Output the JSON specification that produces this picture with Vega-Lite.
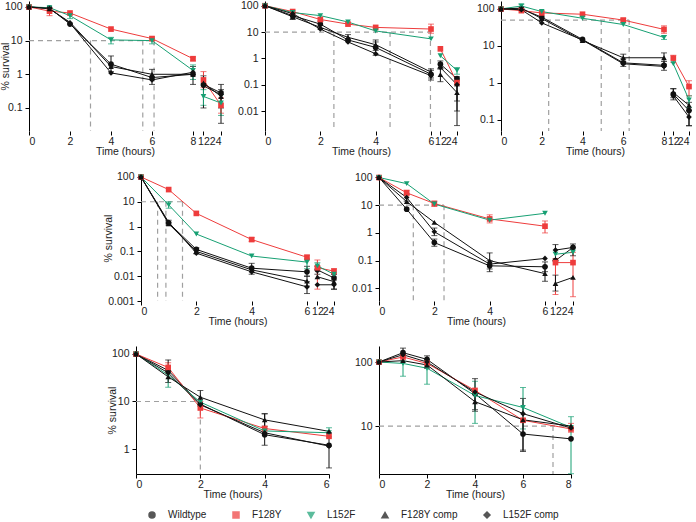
{
"$schema":"https://vega.github.io/schema/vega-lite/v6.json",
"padding":{"left":0,"top":0,"right":0,"bottom":0},
"config":{
 "font":"Liberation Sans",
 "view":{"stroke":null},
 "range":{"category":["#111111","#ee3c3c","#17a073","#111111","#111111"],"symbol":["circle","square","triangle-down","triangle-up","diamond"]},
 "axis":{"grid":false,"domainColor":"#000","tickColor":"#000","labelColor":"#222","titleColor":"#222","labelFontSize":10.5,"titleFontSize":10.5,"titleFontWeight":"normal","tickSize":4,"labelOverlap":false},
 "axisX":{"labelPadding":1,"titlePadding":0},
 "axisY":{"labelPadding":3,"titlePadding":-6},
 "legend":{"orient":"none","legendX":118,"legendY":509,"direction":"horizontal","columns":5,"labelFontSize":10,"symbolSize":36,"labelOffset":11,"columnPadding":23,"labelColor":"#222"}
},
"datasets":{
"A":[
{"t":0,"s":"Wildtype","v":100},{"t":0,"s":"F128Y","v":100},{"t":0,"s":"L152F","v":100},{"t":0,"s":"F128Y comp","v":100},{"t":0,"s":"L152F comp","v":100},
{"t":1,"s":"Wildtype","v":92},{"t":1,"s":"F128Y","v":75},{"t":1,"s":"L152F","v":95},{"t":1,"s":"F128Y comp","v":88},{"t":1,"s":"L152F comp","v":90},
{"t":2,"s":"Wildtype","v":31},{"t":2,"s":"F128Y","v":66},{"t":2,"s":"L152F","v":55},{"t":2,"s":"F128Y comp","v":35},{"t":2,"s":"L152F comp","v":33},
{"t":4,"s":"Wildtype","v":2.0},{"t":4,"s":"F128Y","v":22},{"t":4,"s":"L152F","v":10.5},{"t":4,"s":"F128Y comp","v":1.7},{"t":4,"s":"L152F comp","v":1.1},
{"t":6,"s":"Wildtype","v":0.8},{"t":6,"s":"F128Y","v":11.5},{"t":6,"s":"L152F","v":10},{"t":6,"s":"F128Y comp","v":1.0},{"t":6,"s":"L152F comp","v":0.68},
{"t":8,"s":"Wildtype","v":1.0},{"t":8,"s":"F128Y","v":2.9},{"t":8,"s":"L152F","v":1.3},{"t":8,"s":"F128Y comp","v":1.0},{"t":8,"s":"L152F comp","v":1.15},
{"t":12,"s":"Wildtype","v":0.5},{"t":12,"s":"F128Y","v":0.68},{"t":12,"s":"L152F","v":0.22},{"t":12,"s":"F128Y comp","v":0.55},{"t":12,"s":"L152F comp","v":0.45},
{"t":24,"s":"Wildtype","v":0.28},{"t":24,"s":"F128Y","v":0.12},{"t":24,"s":"L152F","v":0.14},{"t":24,"s":"F128Y comp","v":0.22},{"t":24,"s":"L152F comp","v":0.25}],
"eA":[
{"t":1,"s":"F128Y","v":55,"v2":95},{"t":2,"s":"L152F","v":45,"v2":65},{"t":4,"s":"Wildtype","v":1.2,"v2":3.5},{"t":4,"s":"L152F","v":8,"v2":12.5},{"t":6,"s":"Wildtype","v":0.5,"v2":1.4},{"t":6,"s":"F128Y","v":10,"v2":13},{"t":6,"s":"L152F","v":8,"v2":12},{"t":8,"s":"Wildtype","v":0.5,"v2":1.7},{"t":8,"s":"L152F","v":0.7,"v2":1.9},{"t":8,"s":"F128Y","v":2.5,"v2":3.3},{"t":12,"s":"F128Y","v":0.4,"v2":1.2},{"t":12,"s":"Wildtype","v":0.1,"v2":0.9},{"t":12,"s":"L152F","v":0.12,"v2":0.35},{"t":24,"s":"Wildtype","v":0.035,"v2":0.5},{"t":24,"s":"L152F","v":0.06,"v2":0.25},{"t":24,"s":"F128Y","v":0.07,"v2":0.2},{"t":24,"s":"F128Y comp","v":0.1,"v2":0.35}],
"gA":[{"t":0,"t2":6.1,"v":10,"v2":10},{"t":3,"t2":3,"v":10,"v2":0.0207},{"t":5.55,"t2":5.55,"v":10,"v2":0.0207},{"t":6.1,"t2":6.1,"v":10,"v2":0.0207}],
"B":[
{"t":0,"s":"Wildtype","v":100},{"t":0,"s":"F128Y","v":100},{"t":0,"s":"L152F","v":100},{"t":0,"s":"F128Y comp","v":100},{"t":0,"s":"L152F comp","v":100},
{"t":1,"s":"Wildtype","v":42},{"t":1,"s":"F128Y","v":60},{"t":1,"s":"L152F","v":55},{"t":1,"s":"F128Y comp","v":38},{"t":1,"s":"L152F comp","v":50},
{"t":2,"s":"Wildtype","v":20},{"t":2,"s":"F128Y","v":30},{"t":2,"s":"L152F","v":42},{"t":2,"s":"F128Y comp","v":15},{"t":2,"s":"L152F comp","v":13},
{"t":3,"s":"Wildtype","v":5},{"t":3,"s":"F128Y","v":20},{"t":3,"s":"L152F","v":24},{"t":3,"s":"F128Y comp","v":6.3},{"t":3,"s":"L152F comp","v":4.2},
{"t":4,"s":"Wildtype","v":2.6},{"t":4,"s":"F128Y","v":15},{"t":4,"s":"L152F","v":11},{"t":4,"s":"F128Y comp","v":3.3},{"t":4,"s":"L152F comp","v":1.5},
{"t":6,"s":"Wildtype","v":0.25},{"t":6,"s":"F128Y","v":13},{"t":6,"s":"L152F","v":5.5},{"t":6,"s":"F128Y comp","v":0.3},{"t":6,"s":"L152F comp","v":0.22},
{"t":12,"s":"Wildtype","v":0.6},{"t":12,"s":"F128Y","v":2.3},{"t":12,"s":"L152F","v":1.25},{"t":12,"s":"F128Y comp","v":0.24},{"t":12,"s":"L152F comp","v":0.45},
{"t":24,"s":"Wildtype","v":0.17},{"t":24,"s":"F128Y","v":0.12},{"t":24,"s":"L152F","v":0.35},{"t":24,"s":"F128Y comp","v":0.05},{"t":24,"s":"L152F comp","v":0.1}],
"eB":[
{"t":1,"s":"Wildtype","v":30,"v2":55},{"t":2,"s":"Wildtype","v":14,"v2":26},{"t":3,"s":"F128Y comp","v":4.5,"v2":8},{"t":4,"s":"Wildtype","v":1.3,"v2":4.2},{"t":4,"s":"F128Y comp","v":2,"v2":5},{"t":6,"s":"F128Y","v":9,"v2":20},{"t":6,"s":"Wildtype","v":0.18,"v2":0.4},{"t":6,"s":"L152F comp","v":0.15,"v2":0.35},{"t":12,"s":"F128Y comp","v":0.13,"v2":0.4},{"t":12,"s":"Wildtype","v":0.4,"v2":0.8},{"t":24,"s":"F128Y comp","v":0.0028,"v2":0.09},{"t":24,"s":"Wildtype","v":0.024,"v2":0.2},{"t":24,"s":"L152F comp","v":0.01,"v2":0.15},{"t":24,"s":"L152F","v":0.25,"v2":0.45}],
"gB":[{"t":0,"t2":6,"v":10,"v2":10},{"t":2.49,"t2":2.49,"v":10,"v2":0.00174},{"t":4.52,"t2":4.52,"v":10,"v2":0.00174},{"t":5.98,"t2":5.98,"v":10,"v2":0.00174}],
"C":[
{"t":0,"s":"Wildtype","v":100},{"t":0,"s":"F128Y","v":100},{"t":0,"s":"L152F","v":100},{"t":0,"s":"F128Y comp","v":100},{"t":0,"s":"L152F comp","v":100},
{"t":1,"s":"Wildtype","v":100},{"t":1,"s":"F128Y","v":90},{"t":1,"s":"L152F","v":120},{"t":1,"s":"F128Y comp","v":105},{"t":1,"s":"L152F comp","v":95},
{"t":2,"s":"Wildtype","v":60},{"t":2,"s":"F128Y","v":78},{"t":2,"s":"L152F","v":85},{"t":2,"s":"F128Y comp","v":55},{"t":2,"s":"L152F comp","v":42},
{"t":4,"s":"Wildtype","v":15},{"t":4,"s":"F128Y","v":72},{"t":4,"s":"L152F","v":56},{"t":4,"s":"F128Y comp","v":14},{"t":4,"s":"L152F comp","v":14.5},
{"t":6,"s":"Wildtype","v":3.5},{"t":6,"s":"F128Y","v":50},{"t":6,"s":"L152F","v":38},{"t":6,"s":"F128Y comp","v":4.8},{"t":6,"s":"L152F comp","v":3.3},
{"t":8,"s":"Wildtype","v":3.0},{"t":8,"s":"F128Y","v":28},{"t":8,"s":"L152F","v":17},{"t":8,"s":"F128Y comp","v":4.8},{"t":8,"s":"L152F comp","v":2.8},
{"t":12,"s":"Wildtype","v":0.5},{"t":12,"s":"F128Y","v":4.7},{"t":12,"s":"L152F","v":3.3},{"t":12,"s":"F128Y comp","v":0.55},{"t":12,"s":"L152F comp","v":0.45},
{"t":24,"s":"Wildtype","v":0.18},{"t":24,"s":"F128Y","v":0.8},{"t":24,"s":"L152F","v":0.35},{"t":24,"s":"F128Y comp","v":0.25},{"t":24,"s":"L152F comp","v":0.12}],
"eC":[
{"t":1,"s":"L152F","v":105,"v2":135},{"t":6,"s":"Wildtype","v":2.8,"v2":4.5},{"t":6,"s":"F128Y comp","v":3.8,"v2":6.0},{"t":6,"s":"F128Y","v":42,"v2":56},{"t":8,"s":"F128Y comp","v":3.2,"v2":6.5},{"t":8,"s":"Wildtype","v":2.2,"v2":3.8},{"t":8,"s":"F128Y","v":22,"v2":35},{"t":8,"s":"L152F","v":15,"v2":19},{"t":12,"s":"Wildtype","v":0.35,"v2":0.7},{"t":12,"s":"F128Y comp","v":0.4,"v2":0.7},{"t":12,"s":"F128Y","v":3.6,"v2":5.6},{"t":24,"s":"F128Y","v":0.45,"v2":1.15},{"t":24,"s":"Wildtype","v":0.07,"v2":0.3},{"t":24,"s":"L152F comp","v":0.07,"v2":0.18},{"t":24,"s":"L152F","v":0.22,"v2":0.45}],
"gC":[{"t":0,"t2":6.29,"v":50,"v2":50},{"t":2.34,"t2":2.34,"v":50,"v2":0.0504},{"t":4.92,"t2":4.92,"v":50,"v2":0.0504},{"t":6.29,"t2":6.29,"v":50,"v2":0.0504}],
"D":[
{"t":0,"s":"Wildtype","v":100},{"t":0,"s":"F128Y","v":100},{"t":0,"s":"L152F","v":100},{"t":0,"s":"F128Y comp","v":100},{"t":0,"s":"L152F comp","v":100},
{"t":1,"s":"Wildtype","v":1.4},{"t":1,"s":"F128Y","v":31},{"t":1,"s":"L152F","v":7.5},{"t":1,"s":"F128Y comp","v":1.3},{"t":1,"s":"L152F comp","v":1.5},
{"t":2,"s":"Wildtype","v":0.12},{"t":2,"s":"F128Y","v":3.4},{"t":2,"s":"L152F","v":0.5},{"t":2,"s":"F128Y comp","v":0.1},{"t":2,"s":"L152F comp","v":0.085},
{"t":4,"s":"Wildtype","v":0.021},{"t":4,"s":"F128Y","v":0.3},{"t":4,"s":"L152F","v":0.065},{"t":4,"s":"F128Y comp","v":0.018},{"t":4,"s":"L152F comp","v":0.015},
{"t":6,"s":"Wildtype","v":0.015},{"t":6,"s":"F128Y","v":0.058},{"t":6,"s":"L152F","v":0.037},{"t":6,"s":"F128Y comp","v":0.0063},{"t":6,"s":"L152F comp","v":0.0037},
{"t":12,"s":"Wildtype","v":0.018},{"t":12,"s":"F128Y","v":0.022},{"t":12,"s":"L152F","v":0.026},{"t":12,"s":"F128Y comp","v":0.0095},{"t":12,"s":"L152F comp","v":0.0045},
{"t":24,"s":"Wildtype","v":0.0085},{"t":24,"s":"F128Y","v":0.016},{"t":24,"s":"L152F","v":0.012},{"t":24,"s":"F128Y comp","v":0.006},{"t":24,"s":"L152F comp","v":0.0045}],
"eD":[
{"t":1,"s":"L152F","v":5.5,"v2":10},{"t":1,"s":"Wildtype","v":1.1,"v2":1.8},{"t":2,"s":"Wildtype","v":0.08,"v2":0.14},{"t":4,"s":"Wildtype","v":0.012,"v2":0.033},{"t":4,"s":"F128Y","v":0.25,"v2":0.36},{"t":6,"s":"Wildtype","v":0.01,"v2":0.025},{"t":6,"s":"L152F comp","v":0.002,"v2":0.006},{"t":6,"s":"F128Y comp","v":0.004,"v2":0.01},{"t":6,"s":"L152F","v":0.02,"v2":0.05},{"t":6,"s":"F128Y","v":0.045,"v2":0.07},{"t":12,"s":"F128Y","v":0.003,"v2":0.045},{"t":12,"s":"L152F","v":0.018,"v2":0.035},{"t":12,"s":"Wildtype","v":0.012,"v2":0.025},{"t":24,"s":"Wildtype","v":0.003,"v2":0.012},{"t":24,"s":"F128Y","v":0.012,"v2":0.02},{"t":24,"s":"L152F comp","v":0.003,"v2":0.007}],
"gD":[{"t":0,"t2":1.5,"v":10,"v2":10},{"t":0.6,"t2":0.6,"v":10,"v2":0.001},{"t":0.9,"t2":0.9,"v":10,"v2":0.001},{"t":1.5,"t2":1.5,"v":10,"v2":0.001}],
"E":[
{"t":0,"s":"Wildtype","v":100},{"t":0,"s":"F128Y","v":100},{"t":0,"s":"L152F","v":100},{"t":0,"s":"F128Y comp","v":100},{"t":0,"s":"L152F comp","v":100},
{"t":1,"s":"Wildtype","v":7.2},{"t":1,"s":"F128Y","v":28},{"t":1,"s":"L152F","v":60},{"t":1,"s":"F128Y comp","v":13.5},{"t":1,"s":"L152F comp","v":19},
{"t":2,"s":"Wildtype","v":0.45},{"t":2,"s":"F128Y","v":11.5},{"t":2,"s":"L152F","v":11},{"t":2,"s":"F128Y comp","v":2.4},{"t":2,"s":"L152F comp","v":1.1},
{"t":4,"s":"Wildtype","v":0.065},{"t":4,"s":"F128Y","v":3.2},{"t":4,"s":"L152F","v":2.9},{"t":4,"s":"F128Y comp","v":0.1},{"t":4,"s":"L152F comp","v":0.075},
{"t":6,"s":"Wildtype","v":0.06},{"t":6,"s":"F128Y","v":1.75},{"t":6,"s":"L152F","v":5.1},{"t":6,"s":"F128Y comp","v":0.034},{"t":6,"s":"L152F comp","v":0.12},
{"t":12,"s":"Wildtype","v":0.1},{"t":12,"s":"F128Y","v":0.085},{"t":12,"s":"L152F","v":0.17},{"t":12,"s":"F128Y comp","v":0.015},{"t":12,"s":"L152F comp","v":0.24},
{"t":24,"s":"Wildtype","v":0.3},{"t":24,"s":"F128Y","v":0.085},{"t":24,"s":"L152F","v":0.2},{"t":24,"s":"F128Y comp","v":0.025},{"t":24,"s":"L152F comp","v":0.3}],
"eE":[
{"t":1,"s":"L152F comp","v":14,"v2":25},{"t":1,"s":"F128Y","v":22,"v2":35},{"t":2,"s":"Wildtype","v":0.33,"v2":0.6},{"t":2,"s":"L152F comp","v":0.8,"v2":1.5},{"t":2,"s":"F128Y","v":9,"v2":14},{"t":4,"s":"F128Y","v":2.3,"v2":4.5},{"t":4,"s":"Wildtype","v":0.04,"v2":0.19},{"t":4,"s":"L152F comp","v":0.05,"v2":0.1},{"t":6,"s":"F128Y","v":1.0,"v2":2.7},{"t":6,"s":"F128Y comp","v":0.018,"v2":0.06},{"t":6,"s":"Wildtype","v":0.04,"v2":0.09},{"t":12,"s":"Wildtype","v":0.1,"v2":0.38},{"t":12,"s":"F128Y","v":0.006,"v2":0.12},{"t":12,"s":"F128Y comp","v":0.008,"v2":0.03},{"t":24,"s":"F128Y","v":0.005,"v2":0.2},{"t":24,"s":"L152F comp","v":0.15,"v2":0.4}],
"gE":[{"t":0,"t2":2.35,"v":10,"v2":10},{"t":1.24,"t2":1.24,"v":10,"v2":0.0035},{"t":2.35,"t2":2.35,"v":10,"v2":0.0035}],
"F":[
{"t":0,"s":"Wildtype","v":100},{"t":0,"s":"F128Y","v":100},{"t":0,"s":"L152F","v":100},{"t":0,"s":"F128Y comp","v":100},{"t":0,"s":"L152F comp","v":100},
{"t":1,"s":"Wildtype","v":45},{"t":1,"s":"F128Y","v":52},{"t":1,"s":"L152F","v":36},{"t":1,"s":"F128Y comp","v":33},{"t":1,"s":"L152F comp","v":40},
{"t":2,"s":"Wildtype","v":8.8},{"t":2,"s":"F128Y","v":7.3},{"t":2,"s":"L152F","v":9.7},{"t":2,"s":"F128Y comp","v":12.3},{"t":2,"s":"L152F comp","v":8.5},
{"t":4,"s":"Wildtype","v":2.0},{"t":4,"s":"F128Y","v":2.7},{"t":4,"s":"L152F","v":2.4},{"t":4,"s":"F128Y comp","v":4.1},{"t":4,"s":"L152F comp","v":2.2},
{"t":6,"s":"Wildtype","v":1.2},{"t":6,"s":"F128Y","v":1.85},{"t":6,"s":"L152F","v":2.2},{"t":6,"s":"F128Y comp","v":2.35},{"t":6,"s":"L152F comp","v":1.15}],
"eF":[
{"t":1,"s":"L152F","v":20,"v2":45},{"t":1,"s":"Wildtype","v":25,"v2":75},{"t":1,"s":"F128Y","v":40,"v2":65},{"t":2,"s":"F128Y comp","v":8,"v2":17},{"t":2,"s":"F128Y","v":4.5,"v2":10},{"t":4,"s":"Wildtype","v":1.2,"v2":5.5},{"t":4,"s":"F128Y comp","v":3,"v2":5.5},{"t":6,"s":"Wildtype","v":0.4,"v2":2.2},{"t":6,"s":"L152F","v":1.8,"v2":2.8}],
"gF":[{"t":0,"t2":2,"v":10,"v2":10},{"t":2,"t2":2,"v":10,"v2":0.298}],
"G":[
{"t":0,"s":"Wildtype","v":100},{"t":0,"s":"F128Y","v":100},{"t":0,"s":"L152F","v":100},{"t":0,"s":"F128Y comp","v":100},{"t":0,"s":"L152F comp","v":100},
{"t":1,"s":"Wildtype","v":140},{"t":1,"s":"F128Y","v":120},{"t":1,"s":"L152F","v":95},{"t":1,"s":"F128Y comp","v":105},{"t":1,"s":"L152F comp","v":130},
{"t":2,"s":"Wildtype","v":110},{"t":2,"s":"F128Y","v":95},{"t":2,"s":"L152F","v":80},{"t":2,"s":"F128Y comp","v":90},{"t":2,"s":"L152F comp","v":100},
{"t":4,"s":"Wildtype","v":32},{"t":4,"s":"F128Y","v":36},{"t":4,"s":"L152F","v":30},{"t":4,"s":"F128Y comp","v":24},{"t":4,"s":"L152F comp","v":34},
{"t":6,"s":"Wildtype","v":7.5},{"t":6,"s":"F128Y","v":12.3},{"t":6,"s":"L152F","v":19.5},{"t":6,"s":"F128Y comp","v":12.5},{"t":6,"s":"L152F comp","v":15.6},
{"t":8,"s":"Wildtype","v":6.3},{"t":8,"s":"F128Y","v":9},{"t":8,"s":"L152F","v":9.5},{"t":8,"s":"F128Y comp","v":10},{"t":8,"s":"L152F comp","v":9.3}],
"eG":[
{"t":1,"s":"L152F","v":60,"v2":130},{"t":1,"s":"Wildtype","v":120,"v2":165},{"t":2,"s":"L152F","v":45,"v2":110},{"t":2,"s":"Wildtype","v":80,"v2":125},{"t":4,"s":"L152F","v":11,"v2":50},{"t":4,"s":"L152F comp","v":18,"v2":55},{"t":4,"s":"F128Y comp","v":17,"v2":32},{"t":6,"s":"L152F","v":9,"v2":40},{"t":6,"s":"L152F comp","v":4,"v2":27},{"t":6,"s":"Wildtype","v":4.2,"v2":13},{"t":8,"s":"L152F","v":1.8,"v2":14},{"t":8,"s":"F128Y","v":8,"v2":11}],
"gG":[{"t":0,"t2":8,"v":10,"v2":10},{"t":7.25,"t2":7.25,"v":10,"v2":1.78}]
},
"spacing":14,
"vconcat":[
{"hconcat":[
 {"width":192,"height":130,
  "encoding":{"x":{"field":"t","type":"quantitative","scale":{"domain":[0,8,11,24],"range":[0,164,173,192],"nice":false},"axis":{"values":[0,2,4,6,8,12,24],"title":"Time (hours)","domain":false}},
    "y":{"field":"v","type":"quantitative","scale":{"type":"log","domain":[0.0207,150],"nice":false},"axis":{"values":[0.1,1,10,100],"format":"~g","title":"% survival"}}},
  "layer":[
   {"data":{"name":"gA"},"mark":{"type":"rule","color":"#a0a0a0","strokeDash":[5,4],"strokeWidth":1.2},"encoding":{"x2":{"field":"t2"},"y2":{"field":"v2"}}},
   {"data":{"values":[{}]},"mark":{"type":"rule","color":"#000","strokeWidth":1},"encoding":{"x":{"datum":0},"x2":{"datum":8},"y":{"datum":0.0207}}},
   {"data":{"values":[{}]},"mark":{"type":"rule","color":"#000","strokeWidth":1},"encoding":{"x":{"datum":11},"x2":{"datum":24},"y":{"datum":0.0207}}},
   {"data":{"name":"A"},"transform":[{"filter":"datum.t <= 8"}],"mark":{"type":"line","strokeWidth":1},"encoding":{"color":{"field":"s","type":"nominal","scale":{"domain":["Wildtype","F128Y","L152F","F128Y comp","L152F comp"]},"title":null}}},
   {"data":{"name":"A"},"transform":[{"filter":"datum.t >= 12"}],"mark":{"type":"line","strokeWidth":1},"encoding":{"color":{"field":"s","type":"nominal","scale":{"domain":["Wildtype","F128Y","L152F","F128Y comp","L152F comp"]},"title":null}}},
   {"data":{"name":"eA"},"mark":{"type":"errorbar","ticks":true,"size":6,"thickness":1},"encoding":{"y2":{"field":"v2"},"color":{"field":"s","type":"nominal","scale":{"domain":["Wildtype","F128Y","L152F","F128Y comp","L152F comp"]},"title":null}}},
   {"data":{"name":"A"},"mark":{"type":"point","filled":true,"size":32,"opacity":1},"encoding":{"color":{"field":"s","type":"nominal","scale":{"domain":["Wildtype","F128Y","L152F","F128Y comp","L152F comp"]},"title":null},"shape":{"field":"s","type":"nominal","scale":{"domain":["Wildtype","F128Y","L152F","F128Y comp","L152F comp"]},"title":null}}},
   {"data":{"values":[{}]},"mark":{"type":"text","text":"A","fontSize":15,"align":"left","baseline":"alphabetic","dx":11,"dy":-8,"color":"#111"},"encoding":{"x":{"datum":0},"y":{"datum":0.0207}}}
  ]},
 {"width":192,"height":130,
  "encoding":{"x":{"field":"t","type":"quantitative","scale":{"domain":[0,6,11,24],"range":[0,166,174,192],"nice":false},"axis":{"values":[0,2,4,6,12,24],"title":"Time (hours)","domain":false}},
    "y":{"field":"v","type":"quantitative","scale":{"type":"log","domain":[0.00174,151],"nice":false},"axis":{"values":[0.01,0.1,1,10,100],"format":"~g","title":null}}},
  "layer":[
   {"data":{"name":"gB"},"mark":{"type":"rule","color":"#a0a0a0","strokeDash":[5,4],"strokeWidth":1.2},"encoding":{"x2":{"field":"t2"},"y2":{"field":"v2"}}},
   {"data":{"values":[{}]},"mark":{"type":"rule","color":"#000","strokeWidth":1},"encoding":{"x":{"datum":0},"x2":{"datum":6},"y":{"datum":0.00174}}},
   {"data":{"values":[{}]},"mark":{"type":"rule","color":"#000","strokeWidth":1},"encoding":{"x":{"datum":11},"x2":{"datum":24},"y":{"datum":0.00174}}},
   {"data":{"name":"B"},"transform":[{"filter":"datum.t <= 8"}],"mark":{"type":"line","strokeWidth":1},"encoding":{"color":{"field":"s","type":"nominal","scale":{"domain":["Wildtype","F128Y","L152F","F128Y comp","L152F comp"]},"title":null}}},
   {"data":{"name":"B"},"transform":[{"filter":"datum.t >= 12"}],"mark":{"type":"line","strokeWidth":1},"encoding":{"color":{"field":"s","type":"nominal","scale":{"domain":["Wildtype","F128Y","L152F","F128Y comp","L152F comp"]},"title":null}}},
   {"data":{"name":"eB"},"mark":{"type":"errorbar","ticks":true,"size":6,"thickness":1},"encoding":{"y2":{"field":"v2"},"color":{"field":"s","type":"nominal","scale":{"domain":["Wildtype","F128Y","L152F","F128Y comp","L152F comp"]},"title":null}}},
   {"data":{"name":"B"},"mark":{"type":"point","filled":true,"size":32,"opacity":1},"encoding":{"color":{"field":"s","type":"nominal","scale":{"domain":["Wildtype","F128Y","L152F","F128Y comp","L152F comp"]},"title":null},"shape":{"field":"s","type":"nominal","scale":{"domain":["Wildtype","F128Y","L152F","F128Y comp","L152F comp"]},"title":null}}},
   {"data":{"values":[{}]},"mark":{"type":"text","text":"B","fontSize":15,"align":"left","baseline":"alphabetic","dx":17,"dy":-9,"color":"#111"},"encoding":{"x":{"datum":0},"y":{"datum":0.00174}}}
  ]},
 {"width":190,"height":130,
  "encoding":{"x":{"field":"t","type":"quantitative","scale":{"domain":[0,8,11,24],"range":[0,163,171,188],"nice":false},"axis":{"values":[0,2,4,6,8,12,24],"title":"Time (hours)","domain":false}},
    "y":{"field":"v","type":"quantitative","scale":{"type":"log","domain":[0.0504,164],"nice":false},"axis":{"values":[0.1,1,10,100],"format":"~g","title":null}}},
  "layer":[
   {"data":{"name":"gC"},"mark":{"type":"rule","color":"#a0a0a0","strokeDash":[5,4],"strokeWidth":1.2},"encoding":{"x2":{"field":"t2"},"y2":{"field":"v2"}}},
   {"data":{"values":[{}]},"mark":{"type":"rule","color":"#000","strokeWidth":1},"encoding":{"x":{"datum":0},"x2":{"datum":8},"y":{"datum":0.0504}}},
   {"data":{"values":[{}]},"mark":{"type":"rule","color":"#000","strokeWidth":1},"encoding":{"x":{"datum":11},"x2":{"datum":24},"y":{"datum":0.0504}}},
   {"data":{"name":"C"},"transform":[{"filter":"datum.t <= 8"}],"mark":{"type":"line","strokeWidth":1},"encoding":{"color":{"field":"s","type":"nominal","scale":{"domain":["Wildtype","F128Y","L152F","F128Y comp","L152F comp"]},"title":null}}},
   {"data":{"name":"C"},"transform":[{"filter":"datum.t >= 12"}],"mark":{"type":"line","strokeWidth":1},"encoding":{"color":{"field":"s","type":"nominal","scale":{"domain":["Wildtype","F128Y","L152F","F128Y comp","L152F comp"]},"title":null}}},
   {"data":{"name":"eC"},"mark":{"type":"errorbar","ticks":true,"size":6,"thickness":1},"encoding":{"y2":{"field":"v2"},"color":{"field":"s","type":"nominal","scale":{"domain":["Wildtype","F128Y","L152F","F128Y comp","L152F comp"]},"title":null}}},
   {"data":{"name":"C"},"mark":{"type":"point","filled":true,"size":32,"opacity":1},"encoding":{"color":{"field":"s","type":"nominal","scale":{"domain":["Wildtype","F128Y","L152F","F128Y comp","L152F comp"]},"title":null},"shape":{"field":"s","type":"nominal","scale":{"domain":["Wildtype","F128Y","L152F","F128Y comp","L152F comp"]},"title":null}}},
   {"data":{"values":[{}]},"mark":{"type":"text","text":"C","fontSize":15,"align":"left","baseline":"alphabetic","dx":10,"dy":-9,"color":"#111"},"encoding":{"x":{"datum":0},"y":{"datum":0.0504}}}
  ]}
],"spacing":44,"bounds":"flush"},
{"hconcat":[
 {"width":67,"height":157,"data":{"values":[{}]},"mark":{"type":"point","opacity":0},"encoding":{}},
 {"width":193,"height":126,
  "encoding":{"x":{"field":"t","type":"quantitative","scale":{"domain":[0,6,11,24],"range":[0,166,175,193],"nice":false},"axis":{"values":[0,2,4,6,12,24],"title":"Time (hours)","domain":false}},
    "y":{"field":"v","type":"quantitative","scale":{"type":"log","domain":[0.001,120],"nice":false},"axis":{"values":[0.001,0.01,0.1,1,10,100],"format":"~g","title":"% survival"}}},
  "layer":[
   {"data":{"name":"gD"},"mark":{"type":"rule","color":"#a0a0a0","strokeDash":[5,4],"strokeWidth":1.2},"encoding":{"x2":{"field":"t2"},"y2":{"field":"v2"}}},
   {"data":{"values":[{}]},"mark":{"type":"rule","color":"#000","strokeWidth":1},"encoding":{"x":{"datum":0},"x2":{"datum":6},"y":{"datum":0.001}}},
   {"data":{"values":[{}]},"mark":{"type":"rule","color":"#000","strokeWidth":1},"encoding":{"x":{"datum":11},"x2":{"datum":24},"y":{"datum":0.001}}},
   {"data":{"name":"D"},"transform":[{"filter":"datum.t <= 8"}],"mark":{"type":"line","strokeWidth":1},"encoding":{"color":{"field":"s","type":"nominal","scale":{"domain":["Wildtype","F128Y","L152F","F128Y comp","L152F comp"]},"title":null}}},
   {"data":{"name":"D"},"transform":[{"filter":"datum.t >= 12"}],"mark":{"type":"line","strokeWidth":1},"encoding":{"color":{"field":"s","type":"nominal","scale":{"domain":["Wildtype","F128Y","L152F","F128Y comp","L152F comp"]},"title":null}}},
   {"data":{"name":"eD"},"mark":{"type":"errorbar","ticks":true,"size":6,"thickness":1},"encoding":{"y2":{"field":"v2"},"color":{"field":"s","type":"nominal","scale":{"domain":["Wildtype","F128Y","L152F","F128Y comp","L152F comp"]},"title":null}}},
   {"data":{"name":"D"},"mark":{"type":"point","filled":true,"size":32,"opacity":1},"encoding":{"color":{"field":"s","type":"nominal","scale":{"domain":["Wildtype","F128Y","L152F","F128Y comp","L152F comp"]},"title":null},"shape":{"field":"s","type":"nominal","scale":{"domain":["Wildtype","F128Y","L152F","F128Y comp","L152F comp"]},"title":null}}},
   {"data":{"values":[{}]},"mark":{"type":"text","text":"D","fontSize":15,"align":"left","baseline":"alphabetic","dx":11,"dy":-9,"color":"#111"},"encoding":{"x":{"datum":0},"y":{"datum":0.001}}}
  ]},
 {"width":194,"height":126,
  "encoding":{"x":{"field":"t","type":"quantitative","scale":{"domain":[0,6,11,24],"range":[0,166,175,194],"nice":false},"axis":{"values":[0,2,4,6,12,24],"title":"Time (hours)","domain":false}},
    "y":{"field":"v","type":"quantitative","scale":{"type":"log","domain":[0.0035,123],"nice":false},"axis":{"values":[0.01,0.1,1,10,100],"format":"~g","title":null}}},
  "layer":[
   {"data":{"name":"gE"},"mark":{"type":"rule","color":"#a0a0a0","strokeDash":[5,4],"strokeWidth":1.2},"encoding":{"x2":{"field":"t2"},"y2":{"field":"v2"}}},
   {"data":{"values":[{}]},"mark":{"type":"rule","color":"#000","strokeWidth":1},"encoding":{"x":{"datum":0},"x2":{"datum":6},"y":{"datum":0.0035}}},
   {"data":{"values":[{}]},"mark":{"type":"rule","color":"#000","strokeWidth":1},"encoding":{"x":{"datum":11},"x2":{"datum":24},"y":{"datum":0.0035}}},
   {"data":{"name":"E"},"transform":[{"filter":"datum.t <= 8"}],"mark":{"type":"line","strokeWidth":1},"encoding":{"color":{"field":"s","type":"nominal","scale":{"domain":["Wildtype","F128Y","L152F","F128Y comp","L152F comp"]},"title":null}}},
   {"data":{"name":"E"},"transform":[{"filter":"datum.t >= 12"}],"mark":{"type":"line","strokeWidth":1},"encoding":{"color":{"field":"s","type":"nominal","scale":{"domain":["Wildtype","F128Y","L152F","F128Y comp","L152F comp"]},"title":null}}},
   {"data":{"name":"eE"},"mark":{"type":"errorbar","ticks":true,"size":6,"thickness":1},"encoding":{"y2":{"field":"v2"},"color":{"field":"s","type":"nominal","scale":{"domain":["Wildtype","F128Y","L152F","F128Y comp","L152F comp"]},"title":null}}},
   {"data":{"name":"E"},"mark":{"type":"point","filled":true,"size":32,"opacity":1},"encoding":{"color":{"field":"s","type":"nominal","scale":{"domain":["Wildtype","F128Y","L152F","F128Y comp","L152F comp"]},"title":null},"shape":{"field":"s","type":"nominal","scale":{"domain":["Wildtype","F128Y","L152F","F128Y comp","L152F comp"]},"title":null}}},
   {"data":{"values":[{}]},"mark":{"type":"text","text":"E","fontSize":15,"align":"left","baseline":"alphabetic","dx":11,"dy":-9,"color":"#111"},"encoding":{"x":{"datum":0},"y":{"datum":0.0035}}}
  ]}
],"spacing":45,"bounds":"flush"},
{"hconcat":[
 {"width":57,"height":128,"data":{"values":[{}]},"mark":{"type":"point","opacity":0},"encoding":{}},
 {"width":193,"height":128,
  "encoding":{"x":{"field":"t","type":"quantitative","scale":{"domain":[0,6],"nice":false},"axis":{"values":[0,2,4,6],"title":"Time (hours)"}},
    "y":{"field":"v","type":"quantitative","scale":{"type":"log","domain":[0.298,147],"nice":false},"axis":{"values":[1,10,100],"format":"~g","title":"% survival"}}},
  "layer":[
   {"data":{"name":"gF"},"mark":{"type":"rule","color":"#a0a0a0","strokeDash":[5,4],"strokeWidth":1.2},"encoding":{"x2":{"field":"t2"},"y2":{"field":"v2"}}},
   {"data":{"name":"F"},"mark":{"type":"line","strokeWidth":1},"encoding":{"color":{"field":"s","type":"nominal","scale":{"domain":["Wildtype","F128Y","L152F","F128Y comp","L152F comp"]},"title":null}}},
   {"data":{"name":"eF"},"mark":{"type":"errorbar","ticks":true,"size":6,"thickness":1},"encoding":{"y2":{"field":"v2"},"color":{"field":"s","type":"nominal","scale":{"domain":["Wildtype","F128Y","L152F","F128Y comp","L152F comp"]},"title":null}}},
   {"data":{"name":"F"},"mark":{"type":"point","filled":true,"size":32,"opacity":1},"encoding":{"color":{"field":"s","type":"nominal","scale":{"domain":["Wildtype","F128Y","L152F","F128Y comp","L152F comp"]},"title":null},"shape":{"field":"s","type":"nominal","scale":{"domain":["Wildtype","F128Y","L152F","F128Y comp","L152F comp"]},"title":null}}},
   {"data":{"values":[{}]},"mark":{"type":"text","text":"F","fontSize":15,"align":"left","baseline":"alphabetic","dx":12,"dy":-9,"color":"#111"},"encoding":{"x":{"datum":0},"y":{"datum":0.298}}}
  ]},
 {"width":192,"height":128,
  "encoding":{"x":{"field":"t","type":"quantitative","scale":{"domain":[0,8],"nice":false},"axis":{"values":[0,2,4,6,8],"title":"Time (hours)"}},
    "y":{"field":"v","type":"quantitative","scale":{"type":"log","domain":[1.78,178],"nice":false},"axis":{"values":[10,100],"format":"~g","title":null}}},
  "layer":[
   {"data":{"name":"gG"},"mark":{"type":"rule","color":"#a0a0a0","strokeDash":[5,4],"strokeWidth":1.2},"encoding":{"x2":{"field":"t2"},"y2":{"field":"v2"}}},
   {"data":{"name":"G"},"mark":{"type":"line","strokeWidth":1},"encoding":{"color":{"field":"s","type":"nominal","scale":{"domain":["Wildtype","F128Y","L152F","F128Y comp","L152F comp"]},"title":null}}},
   {"data":{"name":"eG"},"mark":{"type":"errorbar","ticks":true,"size":6,"thickness":1},"encoding":{"y2":{"field":"v2"},"color":{"field":"s","type":"nominal","scale":{"domain":["Wildtype","F128Y","L152F","F128Y comp","L152F comp"]},"title":null}}},
   {"data":{"name":"G"},"mark":{"type":"point","filled":true,"size":32,"opacity":1},"encoding":{"color":{"field":"s","type":"nominal","scale":{"domain":["Wildtype","F128Y","L152F","F128Y comp","L152F comp"]},"title":null},"shape":{"field":"s","type":"nominal","scale":{"domain":["Wildtype","F128Y","L152F","F128Y comp","L152F comp"]},"title":null}}},
   {"data":{"values":[{}]},"mark":{"type":"text","text":"G","fontSize":15,"align":"left","baseline":"alphabetic","dx":9,"dy":-9,"color":"#111"},"encoding":{"x":{"datum":0},"y":{"datum":1.78}}}
  ]}
],"spacing":50,"bounds":"flush"}
]
}
